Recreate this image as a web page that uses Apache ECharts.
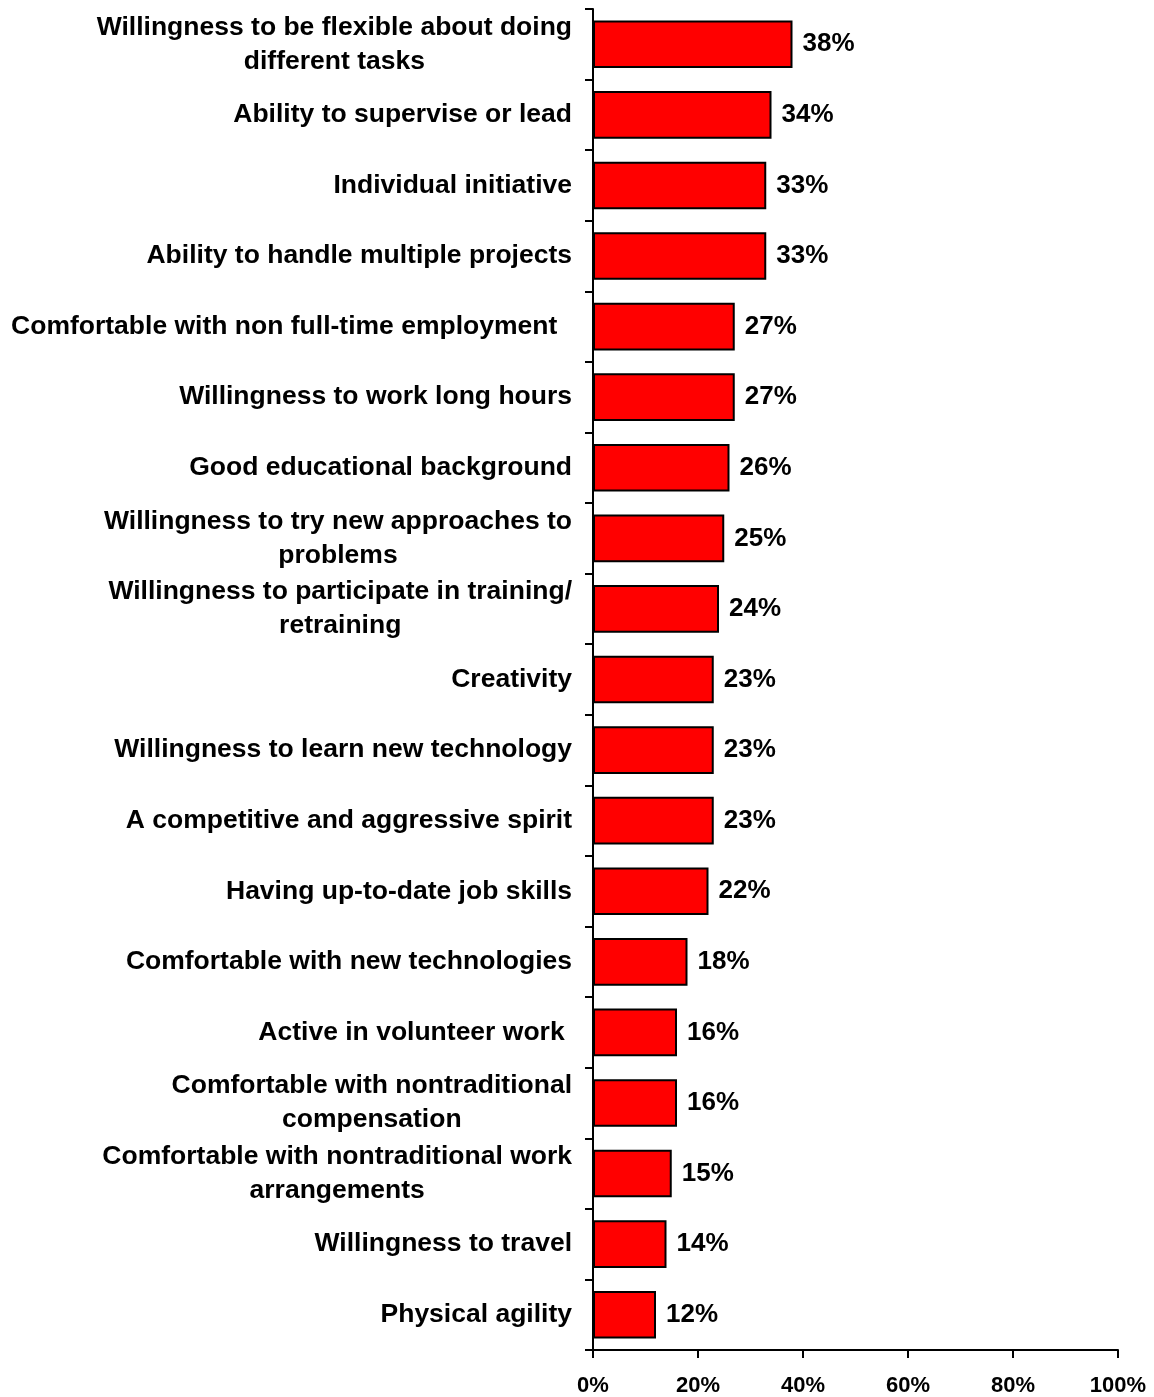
<!DOCTYPE html>
<html>
<head>
<meta charset="utf-8">
<script src="https://cdn.jsdelivr.net/npm/echarts@6/dist/echarts.min.js"></script>
<style>
  html, body { margin: 0; padding: 0; background: #fff; }
  #chart { width: 1154px; height: 1397px; }
</style>
</head>
<body>
<div id="chart"></div>
<script>
// Qualities, listed top to bottom; "\n" breaks a label onto a second line
const categories = [
  'Willingness to be flexible about doing\ndifferent tasks',
  'Ability to supervise or lead',
  'Individual initiative',
  'Ability to handle multiple projects',
  'Comfortable with non full-time employment  ',
  'Willingness to work long hours',
  'Good educational background',
  'Willingness to try new approaches to\nproblems',
  'Willingness to participate in training/\nretraining',
  'Creativity',
  'Willingness to learn new technology',
  'A competitive and aggressive spirit',
  'Having up-to-date job skills',
  'Comfortable with new technologies',
  'Active in volunteer work ',
  'Comfortable with nontraditional\ncompensation',
  'Comfortable with nontraditional work\narrangements',
  'Willingness to travel',
  'Physical agility'
];

// Share of respondents (%)
const values = [38, 34, 33, 33, 27, 27, 26, 25, 24, 23, 23, 23, 22, 18, 16, 16, 15, 14, 12];

// Percent axis ticks
const xTicks = { min: 0, max: 100, interval: 20 };

const FONT = '"Liberation Sans", Arial, sans-serif';

const chart = echarts.init(document.getElementById('chart'), null, { renderer: 'canvas' });

chart.setOption({
  animation: false,
  backgroundColor: '#ffffff',
  grid: { left: 593, right: 36, top: 9, bottom: 47, containLabel: false },
  xAxis: {
    type: 'value',
    min: xTicks.min,
    max: xTicks.max,
    interval: xTicks.interval,
    axisLine: { show: true, lineStyle: { color: '#000', width: 2 } },
    axisTick: { show: true, length: 8, lineStyle: { color: '#000', width: 2 } },
    splitLine: { show: false },
    axisLabel: {
      formatter: '{value}%',
      color: '#000',
      fontFamily: FONT,
      fontWeight: 'bold',
      fontSize: 22,
      margin: 25
    }
  },
  yAxis: {
    type: 'category',
    data: categories,
    inverse: true,
    axisLine: { show: true, lineStyle: { color: '#000', width: 2 } },
    axisTick: { show: true, length: 8, lineStyle: { color: '#000', width: 2 } },
    splitLine: { show: false },
    axisLabel: {
      color: '#000',
      fontFamily: FONT,
      fontWeight: 'bold',
      fontSize: 26.5,
      lineHeight: 34,
      margin: 21,
      formatter: function (v) {
        return v.split('\n').map(function (s) { return '{c|' + s + '}'; }).join('\n');
      },
      rich: {
        c: {
          align: 'center',
          color: '#000',
          fontFamily: FONT,
          fontWeight: 'bold',
          fontSize: 26.5,
          lineHeight: 34
        }
      }
    }
  },
  series: [{
    type: 'bar',
    data: values,
    barCategoryGap: '32.5%',
    itemStyle: { color: '#ff0000', borderColor: '#000', borderWidth: 2 },
    label: {
      show: true,
      position: 'right',
      distance: 10,
      formatter: '{c}%',
      color: '#000',
      fontFamily: FONT,
      fontWeight: 'bold',
      fontSize: 26
    }
  }]
});
</script>
</body>
</html>
